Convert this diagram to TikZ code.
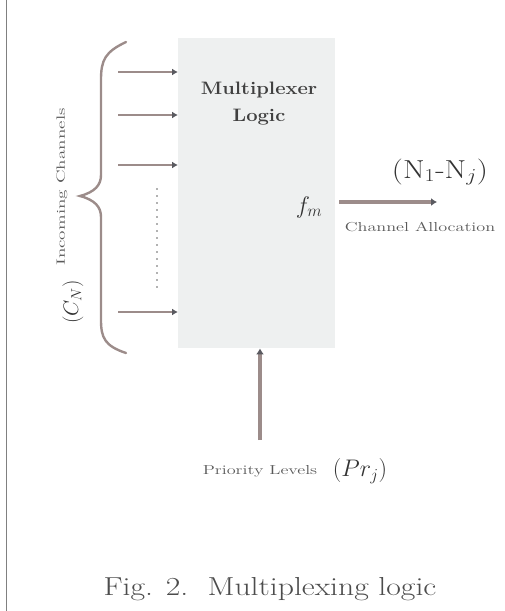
\RequirePackage{fix-cm}
\documentclass[tikz,border=0pt]{standalone}
\usepackage{fontspec}
\usetikzlibrary{arrows.meta}
\definecolor{boxfill}{HTML}{EEF0F0}
\definecolor{arr}{HTML}{9C8C8A}
\definecolor{arrhead}{HTML}{5A5A60}
\definecolor{frame}{HTML}{808080}
\begin{document}
\begin{tikzpicture}[x=1pt,y=-1pt,
  inarrow/.style={draw=arr,line width=2.6pt,-{Latex[length=6pt,width=7pt,color=arrhead]}},
  thickarrow/.style={draw=arr,line width=3.4pt,-{Latex[length=6pt,width=8pt,color=arrhead]}},
  smalltext/.style={text=black!65,inner sep=1pt},
  lbl/.style={text=black!80,inner sep=1pt}]
\useasboundingbox (0,0) rectangle (505,611);
\draw[frame,line width=1pt] (6,0) -- (6,611);
% main box
\node[draw=none,fill=boxfill,minimum width=157pt,minimum height=310pt,anchor=north west,inner sep=0] (box) at (178,38) {};
\node[font=\fontsize{18}{27}\selectfont\bfseries,align=center,text=black!75,inner sep=0] (title) at (259,104) {\scalebox{1.12}[1]{Multiplexer}\\\scalebox{1.12}[1]{Logic}};
\node[lbl,font=\fontsize{24}{26}\selectfont] (fm) at (309,207) {$f_{m}$};
% inputs
\coordinate (i1) at (118,72); \coordinate (o1) at (178,72);
\coordinate (i2) at (118,115); \coordinate (o2) at (178,115);
\coordinate (i3) at (118,165); \coordinate (o3) at (178,165);
\coordinate (i4) at (118,312); \coordinate (o4) at (178,312);
\draw[inarrow] (i1) -- (o1);
\draw[inarrow] (i2) -- (o2);
\draw[inarrow] (i3) -- (o3);
\draw[inarrow] (i4) -- (o4);
\coordinate (d1) at (157,188); \coordinate (d2) at (157,290);
\draw[black!30,line width=2pt,dash pattern=on 2pt off 5pt] (d1) -- (d2);
% brace
\draw[arr,line width=2.4pt,line cap=round] (126,42) .. controls (105,52) and (101,60) .. (101,80)
  -- (101,175) .. controls (101,185) and (95,192) .. (80,196)
  .. controls (95,200) and (101,207) .. (101,217)
  -- (101,320) .. controls (101,338) and (105,346) .. (126,353);
\node[smalltext,rotate=90,font=\fontsize{12}{13}\selectfont] (lab) at (62,187) {\scalebox{1.6}[1]{Incoming Channels}};
\node[lbl,rotate=90,font=\fontsize{21}{23}\selectfont] (cn) at (73,302) {$(C_{N})$};
% output
\coordinate (os) at (339,202);
\coordinate (out) at (437,202);
\draw[thickarrow] (os) -- (out);
\node[lbl,font=\fontsize{26}{28}\selectfont] (nn) at (440,172) {\scalebox{1.2}[1]{$(\mathrm{N}_1$-$\mathrm{N}_j)$}};
\node[smalltext,font=\fontsize{13}{14}\selectfont] (ca) at (420,227) {\scalebox{1.4}[1]{Channel Allocation}};
% priority
\coordinate (ps) at (260,440);
\draw[thickarrow] (ps) -- (box.south -| ps);
\node[smalltext,font=\fontsize{13}{14}\selectfont] (pl) at (260,471) {\scalebox{1.4}[1]{Priority Levels}};
\node[lbl,font=\fontsize{24}{26}\selectfont] (pr) at (360,471) {$(Pr_j)$};
% caption
\node[font=\fontsize{26}{28}\selectfont,text=black!70] (cap) at (270,589) {\scalebox{1.22}[1]{Fig. 2.\ \ Multiplexing logic}};
\end{tikzpicture}
\end{document}
